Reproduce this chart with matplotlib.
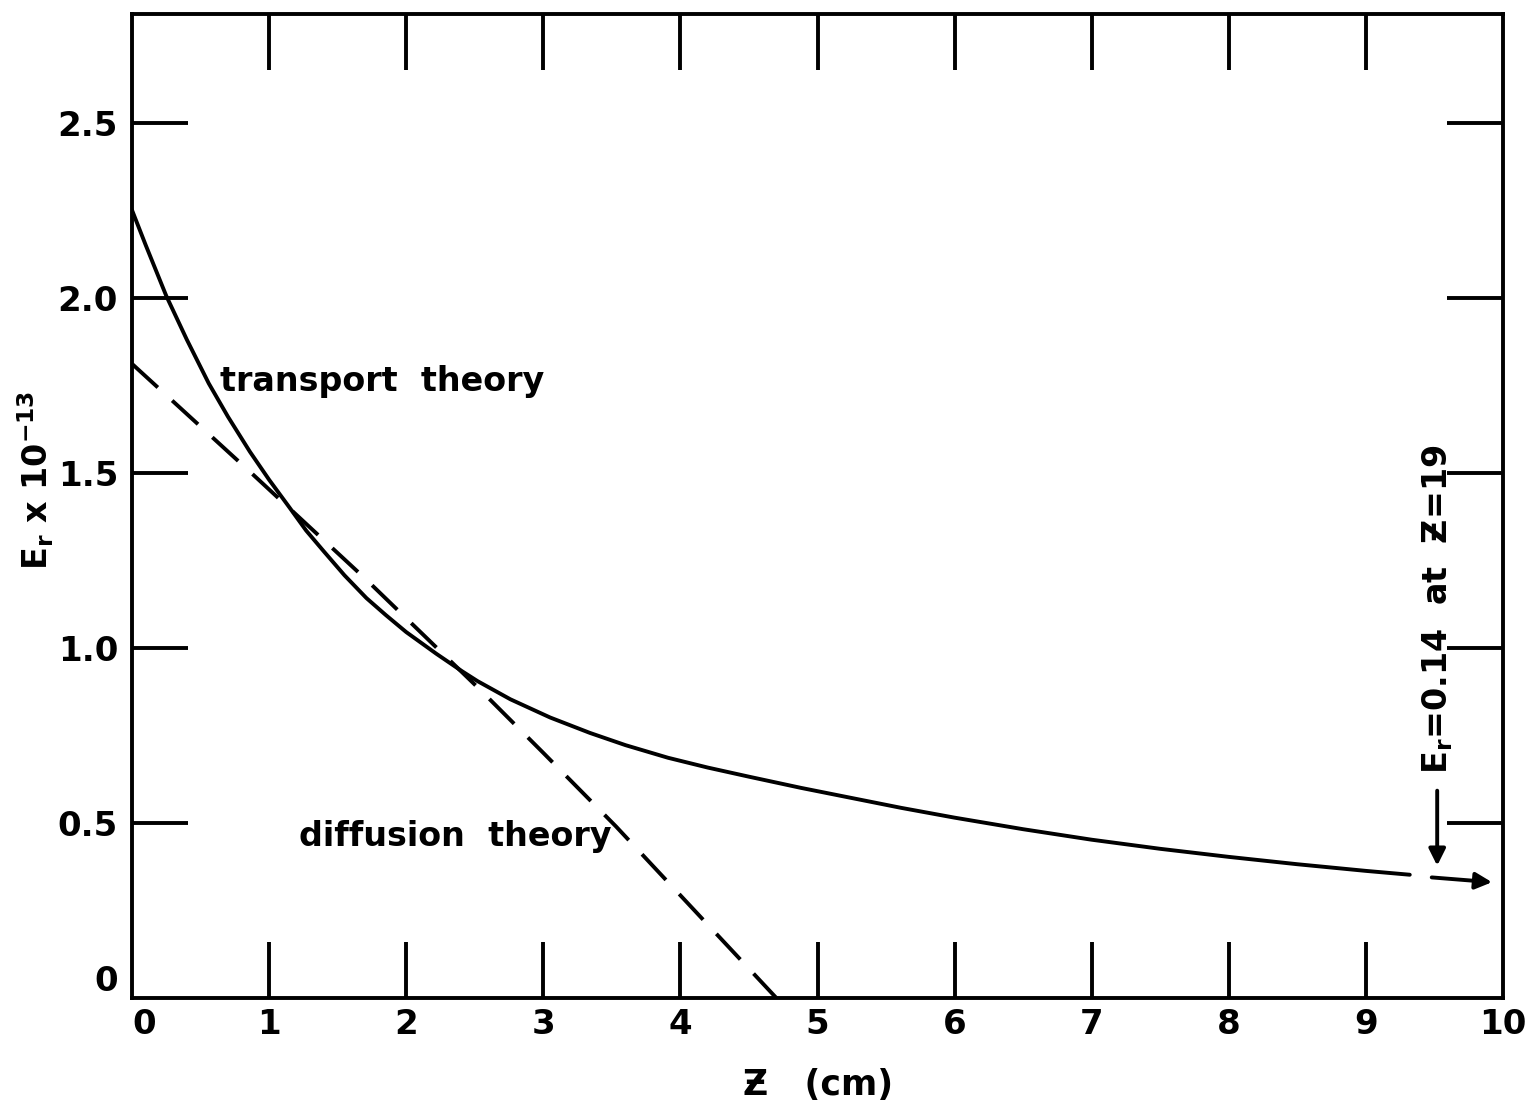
import numpy as np
import matplotlib
matplotlib.use("Agg")
import matplotlib.pyplot as plt

# transport theory curve
z_transport = [0.0, 0.1, 0.25, 0.4, 0.56, 0.7, 0.86, 1.0, 1.15, 1.27, 1.4, 1.55,
               1.71, 1.85, 2.0, 2.22, 2.4, 2.52, 2.76, 3.05, 3.34, 3.6, 3.91, 4.2,
               4.5, 4.88, 5.2, 5.61, 6.0, 6.5, 7.0, 7.5, 8.0, 8.5, 9.0, 9.32]
e_transport = [2.25, 2.15, 2.005, 1.88, 1.755, 1.66, 1.56, 1.48, 1.40, 1.335, 1.275, 1.207,
               1.142, 1.094, 1.045, 0.983, 0.935, 0.905, 0.853, 0.801, 0.757, 0.722, 0.686, 0.658,
               0.632, 0.600, 0.575, 0.543, 0.515, 0.482, 0.452, 0.426, 0.403, 0.382, 0.363, 0.352]

# diffusion theory curve (dashed)
z_diffusion = [0.0, 0.86, 1.7, 2.54, 3.0, 3.53, 4.27, 4.70]
e_diffusion = [1.811, 1.503, 1.198, 0.88, 0.70, 0.49, 0.18, 0.0]

x_ticks = [0, 1, 2, 3, 4, 5, 6, 7, 8, 9, 10]
x_ticklabels = ["0", "1", "2", "3", "4", "5", "6", "7", "8", "9", "10"]
y_ticks = [0, 0.5, 1.0, 1.5, 2.0, 2.5]
y_ticklabels = ["0", "0.5", "1.0", "1.5", "2.0", "2.5"]

plt.rcParams['font.family'] = ['DejaVu Sans']
plt.rcParams['mathtext.fontset'] = 'dejavusans'
plt.rcParams['font.weight'] = 'bold'

fig = plt.figure(figsize=(15.35, 11.09), dpi=100)
ax = fig.add_axes([132 / 1535, (1109 - 998) / 1109, (1503 - 132) / 1535, (998 - 14) / 1109])

lw = 2.8
ax.plot(z_transport, e_transport, color="black", lw=lw, solid_joinstyle="round",
        solid_capstyle="round")
ax.plot(z_diffusion, e_diffusion, color="black", lw=lw, dashes=(9, 5))

ax.set_xlim(0, 10)
ax.set_ylim(0, 2.81)
ax.set_xticks(x_ticks)
ax.set_xticklabels(x_ticklabels)
ax.set_yticks(y_ticks)
ax.set_yticklabels(y_ticklabels)

for sp in ax.spines.values():
    sp.set_linewidth(lw)

ax.tick_params(direction="in", length=40, width=lw, top=True, right=True,
               labeltop=False, labelright=False, labelsize=24.5)
ax.tick_params(axis="x", pad=7)
ax.tick_params(axis="y", pad=10)
# the zero labels sit off the corner
ax.get_yticklabels()[0].set_verticalalignment("bottom")
ax.get_xticklabels()[0].set_horizontalalignment("left")

# hide end ticks that fall on the frame corners
for t in ax.xaxis.get_major_ticks()[::10]:
    t.tick1line.set_visible(False)
    t.tick2line.set_visible(False)
ax.yaxis.get_major_ticks()[0].tick1line.set_visible(False)
ax.yaxis.get_major_ticks()[0].tick2line.set_visible(False)

ax.text(0.64, 1.76, "transport  theory", fontsize=24, ha="left", va="center")
ax.text(1.22, 0.46, "diffusion  theory", fontsize=24, ha="left", va="center")

ax.text(9.52, 1.11, r"E$_\mathbf{r}$=0.14  at  Ƶ=19", fontsize=24, rotation=90,
        ha="center", va="center")
ax.annotate("", xy=(9.52, 0.37), xytext=(9.52, 0.6),
            arrowprops=dict(arrowstyle="-|>", color="black", lw=lw, mutation_scale=25))
ax.annotate("", xy=(9.94, 0.33), xytext=(9.46, 0.345),
            arrowprops=dict(arrowstyle="-|>", color="black", lw=lw, mutation_scale=25))

fig.text(36 / 1535, 1 - 480 / 1109, r"E$_\mathbf{r}$ x 10$^\mathbf{-13}$", fontsize=24,
         rotation=90, ha="center", va="center")
fig.text(818 / 1535, 1 - 1085 / 1109, "Ƶ   (cm)", fontsize=25, ha="center", va="center")

fig.savefig("out.png", dpi=100)
